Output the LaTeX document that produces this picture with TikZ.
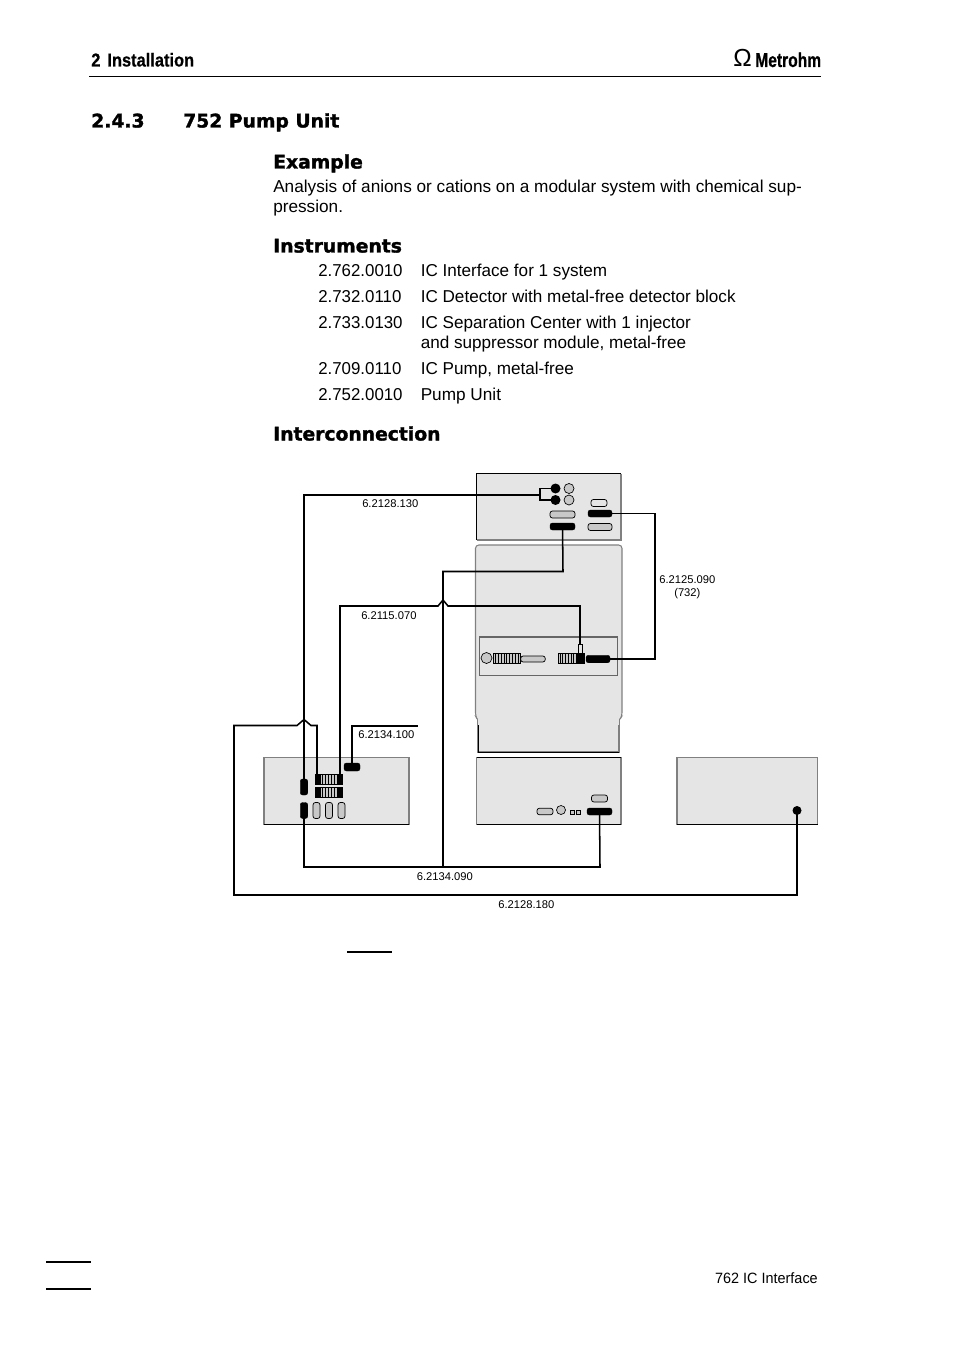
\documentclass[tikz,border=0pt]{standalone}
\usepackage{fontspec}
\usepackage{graphicx}
\setmainfont[BoldFont={Liberation Sans Bold},BoldFeatures={FakeBold=0.6}]{Liberation Sans}
\newfontfamily\headfont[BoldFont={DejaVu Sans Bold},BoldFeatures={FakeBold=1.6}]{DejaVu Sans}
\definecolor{panel}{HTML}{E5E5E5}
\definecolor{edge}{HTML}{808080}
\definecolor{portgray}{HTML}{C8C8C8}
\tikzset{
  wire/.style={draw=black,line width=1.15pt,line join=miter},
  bx/.style={draw=edge,fill=panel,line width=0.8pt},
  dk/.style={draw=black,line width=0.75pt},
  pill/.style={rectangle,rounded corners=1.8pt,inner sep=0pt,outer sep=0pt},
  pk/.style 2 args={pill,fill=black,draw=black,line width=0.3pt,minimum width=#1*0.75pt,minimum height=#2*0.75pt},
  pg/.style 2 args={pill,fill=portgray,draw=black,line width=0.55pt,minimum width=#1*0.75pt,minimum height=#2*0.75pt},
  pw/.style 2 args={pill,fill=panel,draw=black,line width=0.55pt,minimum width=#1*0.75pt,minimum height=#2*0.75pt},
  rk/.style 2 args={rectangle,inner sep=0pt,outer sep=0pt,fill=black,minimum width=#1*0.75pt,minimum height=#2*0.75pt},
  ck/.style={circle,fill=black,inner sep=0pt,minimum size=#1*0.75pt},
  cg/.style={circle,fill=portgray,draw=black,line width=0.5pt,inner sep=0pt,minimum size=#1*0.75pt},
  body/.style={anchor=base west,inner sep=0pt,font=\fontsize{12.9pt}{15pt}\selectfont},
  head/.style={anchor=base west,inner sep=0pt,font=\headfont\bfseries\fontsize{14.05pt}{17pt}\selectfont},
  lab/.style={anchor=base west,inner sep=0pt,font=\fontsize{8.4pt}{10pt}\selectfont},
}
\newcommand{\stripes}[3]{% x0,x1,y centre
  \fill[portgray] (#1,#3-5) rectangle (#2,#3+5);
  \foreach \sx in {0,...,8}{\draw[black,line width=0.5pt] ({#1+2+\sx*(#2-#1-4)/8},#3-5) -- ({#1+2+\sx*(#2-#1-4)/8},#3+5);}
  \draw[black,line width=0.5pt] (#1,#3-5) rectangle (#2,#3+5);
}
\begin{document}
\begin{tikzpicture}[x=0.75pt,y=-0.75pt]
\useasboundingbox (0,0) rectangle (954,1351);

% page furniture
\node[anchor=base west,inner sep=0pt,font=\bfseries\fontsize{14pt}{15pt}\selectfont] (hdr) at (91,66.5) {\scalebox{0.88}[1]{2\hspace{6pt}Installation}};
\node[anchor=base west,inner sep=0pt,font=\fontsize{18.5pt}{20pt}\selectfont] (omega) at (733,67) {Ω};
\node[anchor=base west,inner sep=0pt,font=\bfseries\fontsize{15pt}{16pt}\selectfont] (logo) at (755,67) {\scalebox{0.78}[1]{Metrohm}};
\draw[black,line width=0.8pt] (89,76.5) -- (821,76.5);
\node[head] (sec) at (91,127.5) {2.4.3};
\node[head] (sect) at (183,127.5) {752 Pump Unit};
\node[head] (ex) at (273,168.5) {Example};
\node[body] (t1) at (273,192.5) {Analysis of anions or cations on a modular system with chemical sup-};
\node[body] (t2) at (273,212.5) {pression.};
\node[head] (ins) at (273,252.5) {Instruments};
\node[body] (a1) at (318,276.5) {\scalebox{0.98}[1]{2.762.0010}};\node[body] (b1) at (420.5,276.5) {\scalebox{0.995}[1]{IC Interface for 1 system}};
\node[body] (a2) at (318,302.5) {\scalebox{0.98}[1]{2.732.0110}};\node[body] (b2) at (420.5,302.5) {\scalebox{0.995}[1]{IC Detector with metal-free detector block}};
\node[body] (a3) at (318,328.5) {\scalebox{0.98}[1]{2.733.0130}};\node[body] (b3) at (420.5,328.5) {\scalebox{0.995}[1]{IC Separation Center with 1 injector}};
\node[body] (b3b) at (420.5,348.5) {\scalebox{0.995}[1]{and suppressor module, metal-free}};
\node[body] (a4) at (318,374.5) {\scalebox{0.98}[1]{2.709.0110}};\node[body] (b4) at (420.5,374.5) {\scalebox{0.995}[1]{IC Pump, metal-free}};
\node[body] (a5) at (318,400.5) {\scalebox{0.98}[1]{2.752.0010}};\node[body] (b5) at (420.5,400.5) {Pump Unit};
\node[head] (ic) at (273,440.5) {Interconnection};

% instrument boxes
\fill[panel] (476.5,473.5) rectangle (621,540);
\draw[edge,line width=0.8pt] (621,473.5) -- (621,540) -- (476.5,540);
\draw[dk] (476.5,540) -- (476.5,473.5) -- (621,473.5);

\draw[bx] (478,720) -- (478,752) -- (619,752) -- (619,720) -- cycle;
\draw[black,line width=0.65pt] (478,720) -- (478,752) -- (619,752);
\draw[bx,rounded corners=2.5pt] (475.5,545) -- (622,545) -- (622,716) -- (619,721) -- (478,721) -- (475.5,716) -- cycle;
\fill[panel] (478.4,719) rectangle (618.6,725);
\draw[bx,draw=black!60] (479.5,637) rectangle (617.5,675.5);

\fill[panel] (264,757.5) rectangle (409,824.5);
\draw[edge,line width=0.8pt] (264,824.5) -- (264,757.5) -- (409,757.5) -- (409,824.5);
\draw[dk] (264,824.5) -- (409,824.5);
\fill[panel] (476.5,757.5) rectangle (621,824.5);
\draw[edge,line width=0.8pt] (476.5,824.5) -- (476.5,757.5) -- (621,757.5) -- (621,824.5);
\draw[dk] (476.5,824.5) -- (621,824.5);
\draw[dk] (476.5,757.5) -- (621,757.5);
\fill[panel] (677,757.5) rectangle (817.5,824.5);
\draw[edge,line width=0.8pt] (677,824.5) -- (677,757.5) -- (817.5,757.5) -- (817.5,824.5);
\draw[dk] (677,824.5) -- (817.5,824.5);

% striped connectors
\stripes{493.5}{520}{658.5}
\stripes{558}{584}{658.5}
\stripes{315}{342}{779}
\stripes{315}{342}{792}

% ports: top box
\node[ck=10] (t1k) at (555.5,488.5) {};
\node[ck=10] (t2k) at (555.5,500) {};
\node[cg=10] (t1g) at (569,488.5) {};
\node[cg=10] (t2g) at (569,500) {};
\node[pw={16}{7}] (tp1) at (599,503) {};
\node[pk={24}{7}] (tp2) at (600,513.5) {};
\node[pg={25}{7}] (tp3) at (562.5,514.5) {};
\node[pk={25}{7}] (tp4) at (562.5,526.5) {};
\node[pg={24}{7}] (tp5) at (600,527) {};
% ports: detector panel
\node[cg=11] (pc) at (486.5,658) {};
\node[pg={24.5}{6}] (pg1) at (533,659) {};
\node[rk={7}{11}] (pk1) at (580.5,658.5) {};
\node[pk={24}{7.5}] (pk2) at (598,659) {};
\node[rectangle,draw=black,fill=panel,line width=0.6pt,inner sep=0pt,minimum width=3pt,minimum height=6.5pt] (ptab) at (580,649) {};
% ports: left box
\node[pk={7.5}{16}] (l1) at (304,787) {};
\node[pk={7.5}{16}] (l2) at (304,810.5) {};
\node[pg={7}{16}] (l3) at (316.5,810.5) {};
\node[pg={7}{16}] (l4) at (329,810.5) {};
\node[pg={7}{16}] (l5) at (341.5,810.5) {};
\node[pk={16}{8}] (l6) at (352,767) {};
\node[rk={5}{10}] (s1l) at (317,779) {};
\node[rk={5}{10}] (s1r) at (340,779) {};
\node[rk={5}{10}] (s2l) at (317,792) {};
\node[rk={5}{10}] (s2r) at (340,792) {};
% ports: lower middle box
\node[pg={16}{7}] (m1) at (599.5,798.5) {};
\node[pk={25}{7}] (m2) at (599.5,811.5) {};
\node[pg={16}{6.5}] (m3) at (545,811.5) {};
\node[cg=9] (m4) at (561,810) {};
\node[rectangle,draw=black,fill=portgray,line width=0.5pt,inner sep=0pt,minimum width=3pt,minimum height=3pt] (m5) at (572,812.5) {};
\node[rectangle,draw=black,fill=portgray,line width=0.5pt,inner sep=0pt,minimum width=3.2pt,minimum height=3pt] (m6) at (578,812.5) {};
% port: right box
\node[ck=9] (r1) at (797,810.5) {};

% connector bends
\coordinate (j1) at (540,495);
\coordinate (c1) at (304,495);
\coordinate (c2) at (563,571.5);
\coordinate (c3) at (443,571.5);
\coordinate (c4) at (443,867);
\coordinate (c5) at (304,867);
\coordinate (c6) at (600,867);
\coordinate (c7) at (340,606);
\coordinate (c8) at (580,606);
\coordinate (h1a) at (438,606);
\coordinate (h1b) at (443,600);
\coordinate (h1c) at (448,606);
\coordinate (c9) at (655,513.5);
\coordinate (c10) at (655,659);
\coordinate (c11) at (352,726);
\coordinate (e1) at (418,726);
\coordinate (c12) at (234,725.5);
\coordinate (c13) at (234,895);
\coordinate (c14) at (797,895);
\coordinate (h2a) at (297,725.5);
\coordinate (h2b) at (304,719.5);
\coordinate (h2c) at (311,725.5);
\coordinate (c15) at (317,725.5);

% connectors
\draw[wire] (t1k.center) -| (j1) |- (t2k.center);
\draw[wire] (j1) -- (c1) -- (l1.center);
\draw[wire] (tp4.center) -- (c2) -- (c3) -- (c4);
\draw[wire] (l2.center) -- (c5) -- (c6) -- (m2.center);
\draw[wire] (s1r.center) -- (c7) -- (h1a) -- (h1b) -- (h1c) -- (c8) -- (ptab.north);
\draw[wire] (tp2.center) -- (c9) -- (c10) -- (pk2.center);
\draw[wire] (l6.center) -- (c11) -- (e1);
\draw[wire] (s1l.center) -- (c15) -- (h2c) -- (h2b) -- (h2a) -- (c12) -- (c13) -- (c14) -- (r1.center);

% labels
\node[lab] (n1) at (362,507) {6.2128.130};
\node[lab] (n2) at (361,619) {6.2115.070};
\node[lab] (n3) at (659,583) {6.2125.090};
\node[lab] (n3b) at (674,596) {(732)};
\node[lab] (n4) at (358,738) {6.2134.100};
\node[lab] (n5) at (416.5,880) {6.2134.090};
\node[lab] (n6) at (498,908) {6.2128.180};

\draw[black,line width=1.5pt] (347,951.5) -- (392,951.5);

% footer
\draw[black,line width=0.8pt] (46,1262) -- (91,1262);
\draw[black,line width=0.8pt] (46,1289) -- (91,1289);
\node[anchor=base east,inner sep=0pt,font=\fontsize{11.2pt}{12pt}\selectfont] (ftr) at (818,1283) {\scalebox{0.965}[1]{762 IC Interface}};
\end{tikzpicture}
\end{document}
